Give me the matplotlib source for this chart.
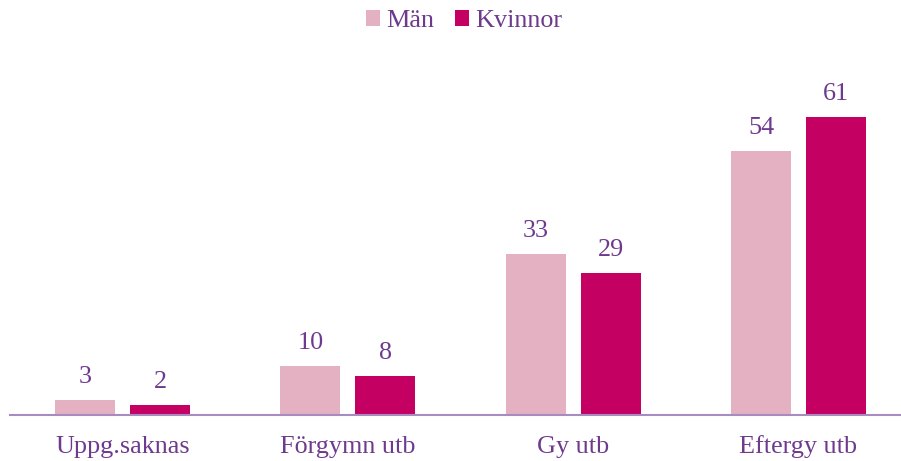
import matplotlib
matplotlib.use("Agg")
import matplotlib.pyplot as plt
import numpy as np

categories = ["Uppg.saknas", "Förgymn utb", "Gy utb", "Eftergy utb"]
series_names = ["Män", "Kvinnor"]
man = [3, 10, 33, 54]
kvinnor = [2, 8, 29, 61]

c_man = "#E4B1C3"
c_kv = "#C50063"
c_text = "#6E3A8E"
c_axis = "#A88CC0"

W, H = 901, 461
fig = plt.figure(figsize=(W / 100, H / 100), dpi=100)
plt.rcParams['font.family'] = ['Liberation Serif', 'DejaVu Serif']
fs = 18.8

# axes: left 10px, right 901px, bottom at 415px from top, scale 4.885 px/unit
ymax = 75
px_per_unit = 4.885
ax_h = ymax * px_per_unit
bottom_px = 415
ax = fig.add_axes([10 / W, 1 - bottom_px / H, (W - 10) / W, ax_h / H])
ax.set_ylim(0, ymax)
ax.set_xlim(-0.5, 3.455)

x = np.arange(len(categories))
bw = 0.266
off = 0.1664
b1 = ax.bar(x - off, man, bw, color=c_man, label=series_names[0])
b2 = ax.bar(x + off, kvinnor, bw, color=c_kv, label=series_names[1])

for bars, vals in ((b1, man), (b2, kvinnor)):
    for r, v in zip(bars, vals):
        ax.annotate(str(v), (r.get_x() + r.get_width() / 2, v),
                    xytext=(0, 17 * 72 / 100), textcoords="offset points",
                    ha="center", va="baseline", fontsize=fs, color=c_text)

for i, c in enumerate(categories):
    ax.annotate(c, (i, 0), xycoords=("data", "axes fraction"),
                xytext=(0, -38 * 72 / 100), textcoords="offset points",
                ha="center", va="baseline", fontsize=fs, color=c_text,
                annotation_clip=False)

for s in ["top", "right", "left"]:
    ax.spines[s].set_visible(False)
ax.spines["bottom"].set_color(c_axis)
ax.spines["bottom"].set_linewidth(1.5)
ax.set_xticks([])
ax.set_yticks([])

leg = fig.legend(handles=[b1, b2], labels=series_names, loc="center",
                 bbox_to_anchor=(464 / W, 1 - 21 / H), ncol=2, frameon=False,
                 fontsize=fs, labelcolor=c_text, handlelength=0.54,
                 handleheight=0.54, handletextpad=0.23, columnspacing=0.79,
                 borderpad=0, borderaxespad=0)

fig.savefig("out.png", dpi=100)
